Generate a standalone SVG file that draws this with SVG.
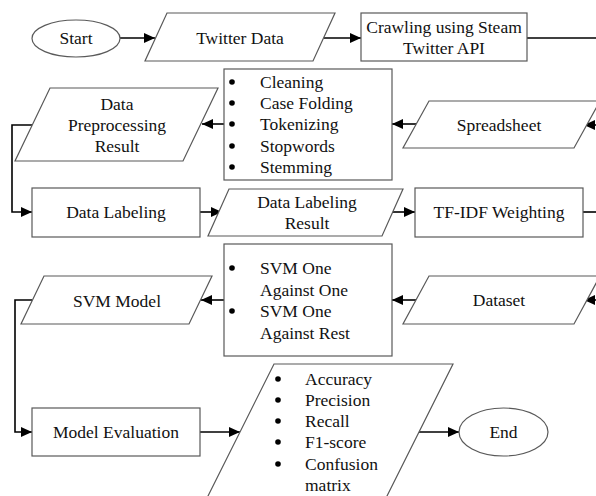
<svg xmlns="http://www.w3.org/2000/svg" width="596" height="496" viewBox="0 0 596 496">
<style>
.shape{fill:#fff;stroke:#595959;stroke-width:1.2}
.lbl{font-family:'Liberation Serif','DejaVu Serif',serif;font-size:17.5px;fill:#111;text-anchor:middle}
.li{font-family:'Liberation Serif','DejaVu Serif',serif;font-size:17.5px;fill:#111;text-anchor:start}
.dot{fill:#000}
.conn{fill:none;stroke:#000;stroke-width:1.6}
</style>
<defs>
<marker id="ah" markerUnits="userSpaceOnUse" markerWidth="12" markerHeight="10" refX="11" refY="5" orient="auto">
<path d="M0,0 L11,5 L0,10 z" fill="#000"/>
</marker>
</defs>
<rect width="596" height="496" fill="#fff"/>

<g id="connectors">
<path class="conn" d="M120,38 H155" marker-end="url(#ah)"/>
<path class="conn" d="M324,38 H361" marker-end="url(#ah)"/>
<path class="conn" d="M527,38 H596"/>
<path class="conn" d="M596,125 H584" marker-end="url(#ah)"/>
<path class="conn" d="M416,124 H392" marker-end="url(#ah)"/>
<path class="conn" d="M224,124 H202" marker-end="url(#ah)"/>
<path class="conn" d="M32,125 H12 V212 H32" marker-end="url(#ah)"/>
<path class="conn" d="M200,212 H222" marker-end="url(#ah)"/>
<path class="conn" d="M392,212 H415" marker-end="url(#ah)"/>
<path class="conn" d="M583,212 H596"/>
<path class="conn" d="M596,300 H584" marker-end="url(#ah)"/>
<path class="conn" d="M416,300 H392" marker-end="url(#ah)"/>
<path class="conn" d="M224,300 H201" marker-end="url(#ah)"/>
<path class="conn" d="M32,300 H15 V432 H32" marker-end="url(#ah)"/>
<path class="conn" d="M200,432 H240" marker-end="url(#ah)"/>
<path class="conn" d="M419,432 H459" marker-end="url(#ah)"/>
</g>

<g id="start">
<ellipse class="shape" cx="76" cy="38.5" rx="44" ry="18.5"/>
<text class="lbl" x="76" y="44">Start</text>
</g>

<g id="twitter-data">
<polygon class="shape" points="167,13 335,13 313,61 145,61"/>
<text class="lbl" x="240" y="44">Twitter Data</text>
</g>

<g id="crawling">
<rect class="shape" x="361" y="13" width="166" height="48"/>
<text class="lbl" x="444" y="33">Crawling using Steam</text>
<text class="lbl" x="444" y="54">Twitter API</text>
</g>

<g id="spreadsheet">
<polygon class="shape" points="429,101 600,101 574,148 403,148"/>
<text class="lbl" x="499" y="131">Spreadsheet</text>
</g>

<g id="preprocessing-steps">
<rect class="shape" x="224" y="69" width="168" height="111"/>
<circle class="dot" cx="232" cy="82" r="2.8"/>
<text class="li" x="260" y="88">Cleaning</text>
<circle class="dot" cx="232" cy="103" r="2.8"/>
<text class="li" x="260" y="109">Case Folding</text>
<circle class="dot" cx="232" cy="124" r="2.8"/>
<text class="li" x="260" y="130">Tokenizing</text>
<circle class="dot" cx="232" cy="146" r="2.8"/>
<text class="li" x="260" y="152">Stopwords</text>
<circle class="dot" cx="232" cy="167" r="2.8"/>
<text class="li" x="260" y="173">Stemming</text>
</g>

<g id="preprocessing-result">
<polygon class="shape" points="50,88 218,88 183,161 15,161"/>
<text class="lbl" x="117" y="110">Data</text>
<text class="lbl" x="117" y="131">Preprocessing</text>
<text class="lbl" x="117" y="152">Result</text>
</g>

<g id="data-labeling">
<rect class="shape" x="32" y="188" width="168" height="49"/>
<text class="lbl" x="116" y="218">Data Labeling</text>
</g>

<g id="labeling-result">
<polygon class="shape" points="229,189 403,189 382,236 208,236"/>
<text class="lbl" x="307" y="208">Data Labeling</text>
<text class="lbl" x="307" y="229">Result</text>
</g>

<g id="tfidf">
<rect class="shape" x="415" y="188" width="168" height="49"/>
<text class="lbl" x="499" y="218">TF-IDF Weighting</text>
</g>

<g id="dataset">
<polygon class="shape" points="429,276 600,276 574,324 403,324"/>
<text class="lbl" x="499" y="306">Dataset</text>
</g>

<g id="svm-methods">
<rect class="shape" x="224" y="244" width="168" height="112"/>
<circle class="dot" cx="232" cy="268" r="2.8"/>
<text class="li" x="260" y="274">SVM One</text>
<text class="li" x="260" y="296">Against One</text>
<circle class="dot" cx="232" cy="311" r="2.8"/>
<text class="li" x="260" y="317">SVM One</text>
<text class="li" x="260" y="339">Against Rest</text>
</g>

<g id="svm-model">
<polygon class="shape" points="44,276 212,276 189,324 21,324"/>
<text class="lbl" x="117" y="307">SVM Model</text>
</g>

<g id="model-evaluation">
<rect class="shape" x="32" y="408" width="168" height="48"/>
<text class="lbl" x="116" y="438">Model Evaluation</text>
</g>

<g id="metrics">
<polygon class="shape" points="274,364 453,364 383,504 204,504"/>
<circle class="dot" cx="278" cy="379" r="2.8"/>
<text class="li" x="305" y="385">Accuracy</text>
<circle class="dot" cx="278" cy="400" r="2.8"/>
<text class="li" x="305" y="406">Precision</text>
<circle class="dot" cx="278" cy="421" r="2.8"/>
<text class="li" x="305" y="427">Recall</text>
<circle class="dot" cx="278" cy="442" r="2.8"/>
<text class="li" x="305" y="448">F1-score</text>
<circle class="dot" cx="278" cy="464" r="2.8"/>
<text class="li" x="305" y="470">Confusion</text>
<text class="li" x="305" y="491">matrix</text>
</g>

<g id="end">
<ellipse class="shape" cx="503.5" cy="432" rx="44.5" ry="24"/>
<text class="lbl" x="503.5" y="438">End</text>
</g>
</svg>
